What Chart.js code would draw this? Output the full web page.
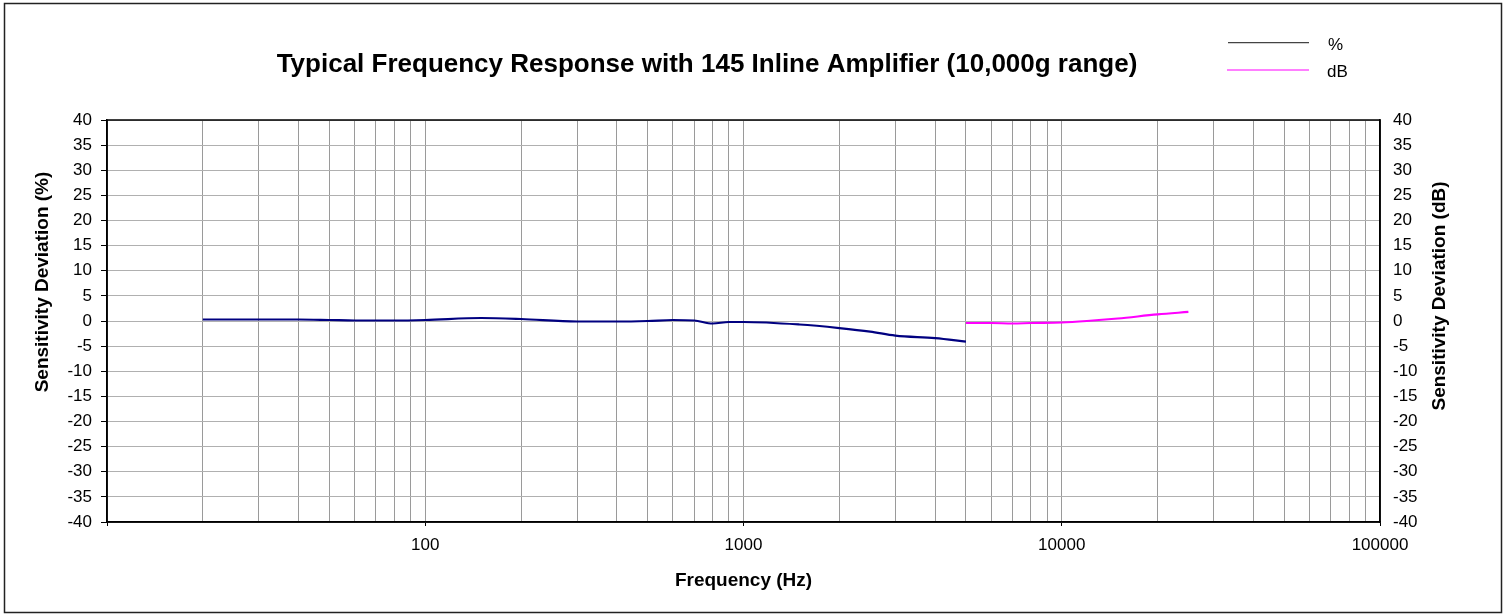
<!DOCTYPE html>
<html>
<head>
<meta charset="utf-8">
<title>Typical Frequency Response</title>
<script src="https://cdn.jsdelivr.net/npm/chart.js@4"></script>
<style>
	body { margin: 0; background: #fff; }
	#freqChart { display: block; }
</style>
</head>
<body>
<canvas id="freqChart" width="1509" height="616"></canvas>
<script>
// % series (left axis)
const pctFreq = [20, 30, 40, 50, 60, 80, 100, 150, 200, 300, 400, 500, 600, 700, 800, 900, 1000, 1500, 2000, 2500, 3000, 4000, 5000];
const pctValues = [0.3, 0.3, 0.3, 0.2, 0.1, 0.1, 0.2, 0.6, 0.4, -0.1, -0.1, 0.0, 0.2, 0.1, -0.5, -0.2, -0.2, -0.7, -1.4, -2.1, -2.9, -3.4, -4.1];

// dB series (right axis)
const dbFreq = [5000, 6000, 7000, 8000, 10000, 12000, 15000, 20000, 25000];
const dbValues = [-0.4, -0.4, -0.5, -0.4, -0.3, 0.0, 0.5, 1.3, 1.8];

// axis ticks
const xDecades = [10, 100, 1000, 10000];
const xTickLabels = [100, 1000, 10000, 100000];
const yMin = -40, yMax = 40, yStep = 5;

const xGrid = [];
xDecades.forEach(d => {
	for (let m = 1; m <= 9; m++) xGrid.push(d * m);
});
xGrid.push(100000);

const FONT = "'Liberation Sans', Arial, sans-serif";

// title, legend, y titles, plot box and outer frame
const decorPlugin = {
	id: 'decor',
	beforeDatasetsDraw(chart) {
		const ctx = chart.ctx;
		const a = chart.chartArea;
		ctx.save();
		ctx.strokeStyle = '#000';
		ctx.lineWidth = 1.5;
		ctx.strokeRect(a.left, a.top, a.right - a.left, a.bottom - a.top);
		ctx.restore();
	},
	afterDraw(chart) {
		const ctx = chart.ctx;
		ctx.save();

		// outer frame
		ctx.strokeStyle = '#222';
		ctx.lineWidth = 1.5;
		ctx.strokeRect(4.5, 3.5, 1497, 609);

		// title
		ctx.fillStyle = '#000';
		ctx.font = 'bold 26px ' + FONT;
		ctx.textAlign = 'center';
		ctx.textBaseline = 'alphabetic';
		ctx.fillText('Typical Frequency Response with 145 Inline Amplifier (10,000g range)', 707, 72);

		// legend
		ctx.lineWidth = 1.2;
		ctx.strokeStyle = '#444';
		ctx.beginPath(); ctx.moveTo(1228, 42.7); ctx.lineTo(1309, 42.7); ctx.stroke();
		ctx.strokeStyle = '#ff00ff';
		ctx.beginPath(); ctx.moveTo(1227, 70); ctx.lineTo(1309, 70); ctx.stroke();
		ctx.font = '17px ' + FONT;
		ctx.textAlign = 'left';
		ctx.textBaseline = 'middle';
		ctx.fillStyle = '#000';
		ctx.fillText('%', 1328, 45);
		ctx.fillText('dB', 1327, 72);

		// y axis titles, both read bottom to top
		ctx.font = 'bold 19px ' + FONT;
		ctx.textAlign = 'center';
		ctx.textBaseline = 'middle';
		ctx.save();
		ctx.translate(42.5, 282);
		ctx.rotate(-Math.PI / 2);
		ctx.fillText('Sensitivity Deviation (%)', 0, 0);
		ctx.restore();
		ctx.translate(1440, 296);
		ctx.rotate(-Math.PI / 2);
		ctx.fillText('Sensitivity Deviation (dB)', 0, 0);

		ctx.restore();
	}
};

const config = {
	type: 'line',
	data: {
		datasets: [
			{
				label: '%',
				data: pctFreq.map((f, i) => ({ x: f, y: pctValues[i] })),
				yAxisID: 'y',
				borderColor: '#000080',
				borderWidth: 2.2,
				pointRadius: 0,
				cubicInterpolationMode: 'monotone'
			},
			{
				label: 'dB',
				data: dbFreq.map((f, i) => ({ x: f, y: dbValues[i] })),
				yAxisID: 'y1',
				borderColor: '#ff00ff',
				borderWidth: 2.2,
				pointRadius: 0,
				cubicInterpolationMode: 'monotone'
			}
		]
	},
	options: {
		responsive: false,
		animation: false,
		devicePixelRatio: 1,
		layout: { padding: { top: 120, left: 0, right: 0, bottom: 0 } },
		plugins: {
			legend: { display: false },
			tooltip: { enabled: false }
		},
		scales: {
			x: {
				type: 'logarithmic',
				position: 'bottom',
				min: 10,
				max: 100000,
				afterBuildTicks: s => { s.ticks = xGrid.map(v => ({ value: v })); },
				afterFit: s => { s.height = 94; },
				ticks: {
					autoSkip: false,
					maxRotation: 0,
					padding: 9,
					color: '#000',
					font: { family: FONT, size: 17 },
					callback: v => xTickLabels.includes(v) ? String(v) : ''
				},
				grid: {
					color: '#9a9a9a',
					lineWidth: 1,
					tickLength: 4,
					tickColor: c => (xTickLabels.includes(c.tick.value) || c.tick.value === 10) ? '#000' : 'rgba(0,0,0,0)'
				},
				border: { color: '#000', width: 1.5 },
				title: {
					display: true,
					text: 'Frequency (Hz)',
					color: '#000',
					font: { family: FONT, size: 19, weight: 'bold' },
					padding: { top: 0, bottom: 24 }
				}
			},
			y: {
				position: 'left',
				min: yMin,
				max: yMax,
				afterFit: s => { s.width = 107; },
				ticks: {
					stepSize: yStep,
					padding: 9,
					color: '#000',
					font: { family: FONT, size: 17 }
				},
				grid: {
					color: '#b0b0b0',
					lineWidth: 1,
					tickLength: 6,
					tickColor: '#000'
				},
				border: { color: '#000', width: 1.5 }
			},
			y1: {
				position: 'right',
				min: yMin,
				max: yMax,
				afterFit: s => { s.width = 129; },
				ticks: {
					stepSize: yStep,
					padding: 13,
					color: '#000',
					font: { family: FONT, size: 17 }
				},
				grid: { drawOnChartArea: false, drawTicks: false },
				border: { color: '#000', width: 1.5 }
			}
		}
	},
	plugins: [decorPlugin]
};

const freqChart = new Chart(document.getElementById('freqChart'), config);
</script>
</body>
</html>
